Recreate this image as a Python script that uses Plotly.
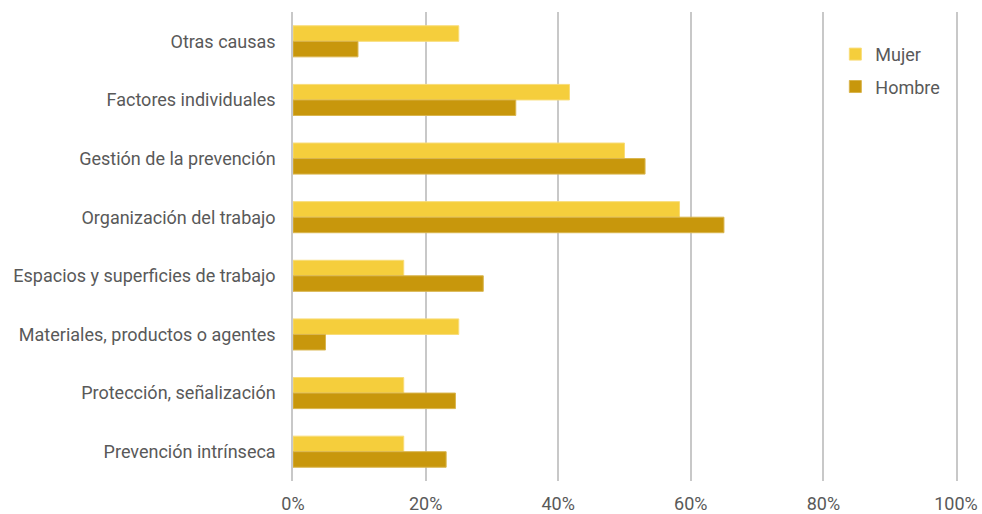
import plotly.graph_objects as go

categories = ["Otras causas", "Factores individuales", "Gestión de la prevención",
              "Organización del trabajo", "Espacios y superficies de trabajo",
              "Materiales, productos o agentes", "Protección, señalización",
              "Prevención intrínseca"]
mujer = [25.0, 41.7, 50.0, 58.3, 16.7, 25.0, 16.7, 16.7]
hombre = [9.8, 33.6, 53.1, 65.0, 28.7, 4.9, 24.5, 23.1]
x_ticks = [0, 20, 40, 60, 80, 100]
x_tick_labels = ["0%", "20%", "40%", "60%", "80%", "100%"]

font_family = "Roboto"
txt = "#595959"
fs = 18

fig = go.Figure()
fig.add_trace(go.Bar(y=categories, x=mujer, name="Mujer", orientation="h",
                     legendgroup="m",
                     marker=dict(color="#F5CE3C", line=dict(color="#F8DC78", width=1))))
fig.add_trace(go.Bar(y=categories, x=hombre, name="Hombre", orientation="h",
                     legendgroup="h",
                     marker=dict(color="#C8970C", line=dict(color="#D9B54E", width=1))))

fig.update_layout(
    width=982, height=514,
    margin=dict(l=293, r=26, t=12, b=33, autoexpand=False),
    paper_bgcolor="white", plot_bgcolor="white",
    barmode="group", bargap=0.47, bargroupgap=0,
    font=dict(family=font_family, size=fs, color=txt),
    legend=dict(x=0.818, y=0.949, xanchor="left", yanchor="top",
                font=dict(size=fs, color=txt), itemwidth=30,
                traceorder="grouped", tracegroupgap=6,
                bgcolor="rgba(0,0,0,0)"),
    showlegend=True,
)
fig.update_xaxes(range=[0, 100], tickvals=x_ticks, ticktext=x_tick_labels,
                 showgrid=True, gridcolor="#C8C8C8", gridwidth=1.5,
                 zeroline=False, showline=False, ticklabelstandoff=10,
                 automargin=False,
                 tickfont=dict(size=fs, color=txt))
fig.update_yaxes(autorange="reversed", showgrid=False, zeroline=False,
                 showline=True, mirror=True, linecolor="#C8C8C8", linewidth=1.5,
                 automargin=False,
                 ticklabelstandoff=12, tickfont=dict(size=fs, color=txt))

fig.write_html("out.html", config={"displayModeBar": False},
               post_script="document.body.style.margin='0';document.body.style.overflow='hidden';")
